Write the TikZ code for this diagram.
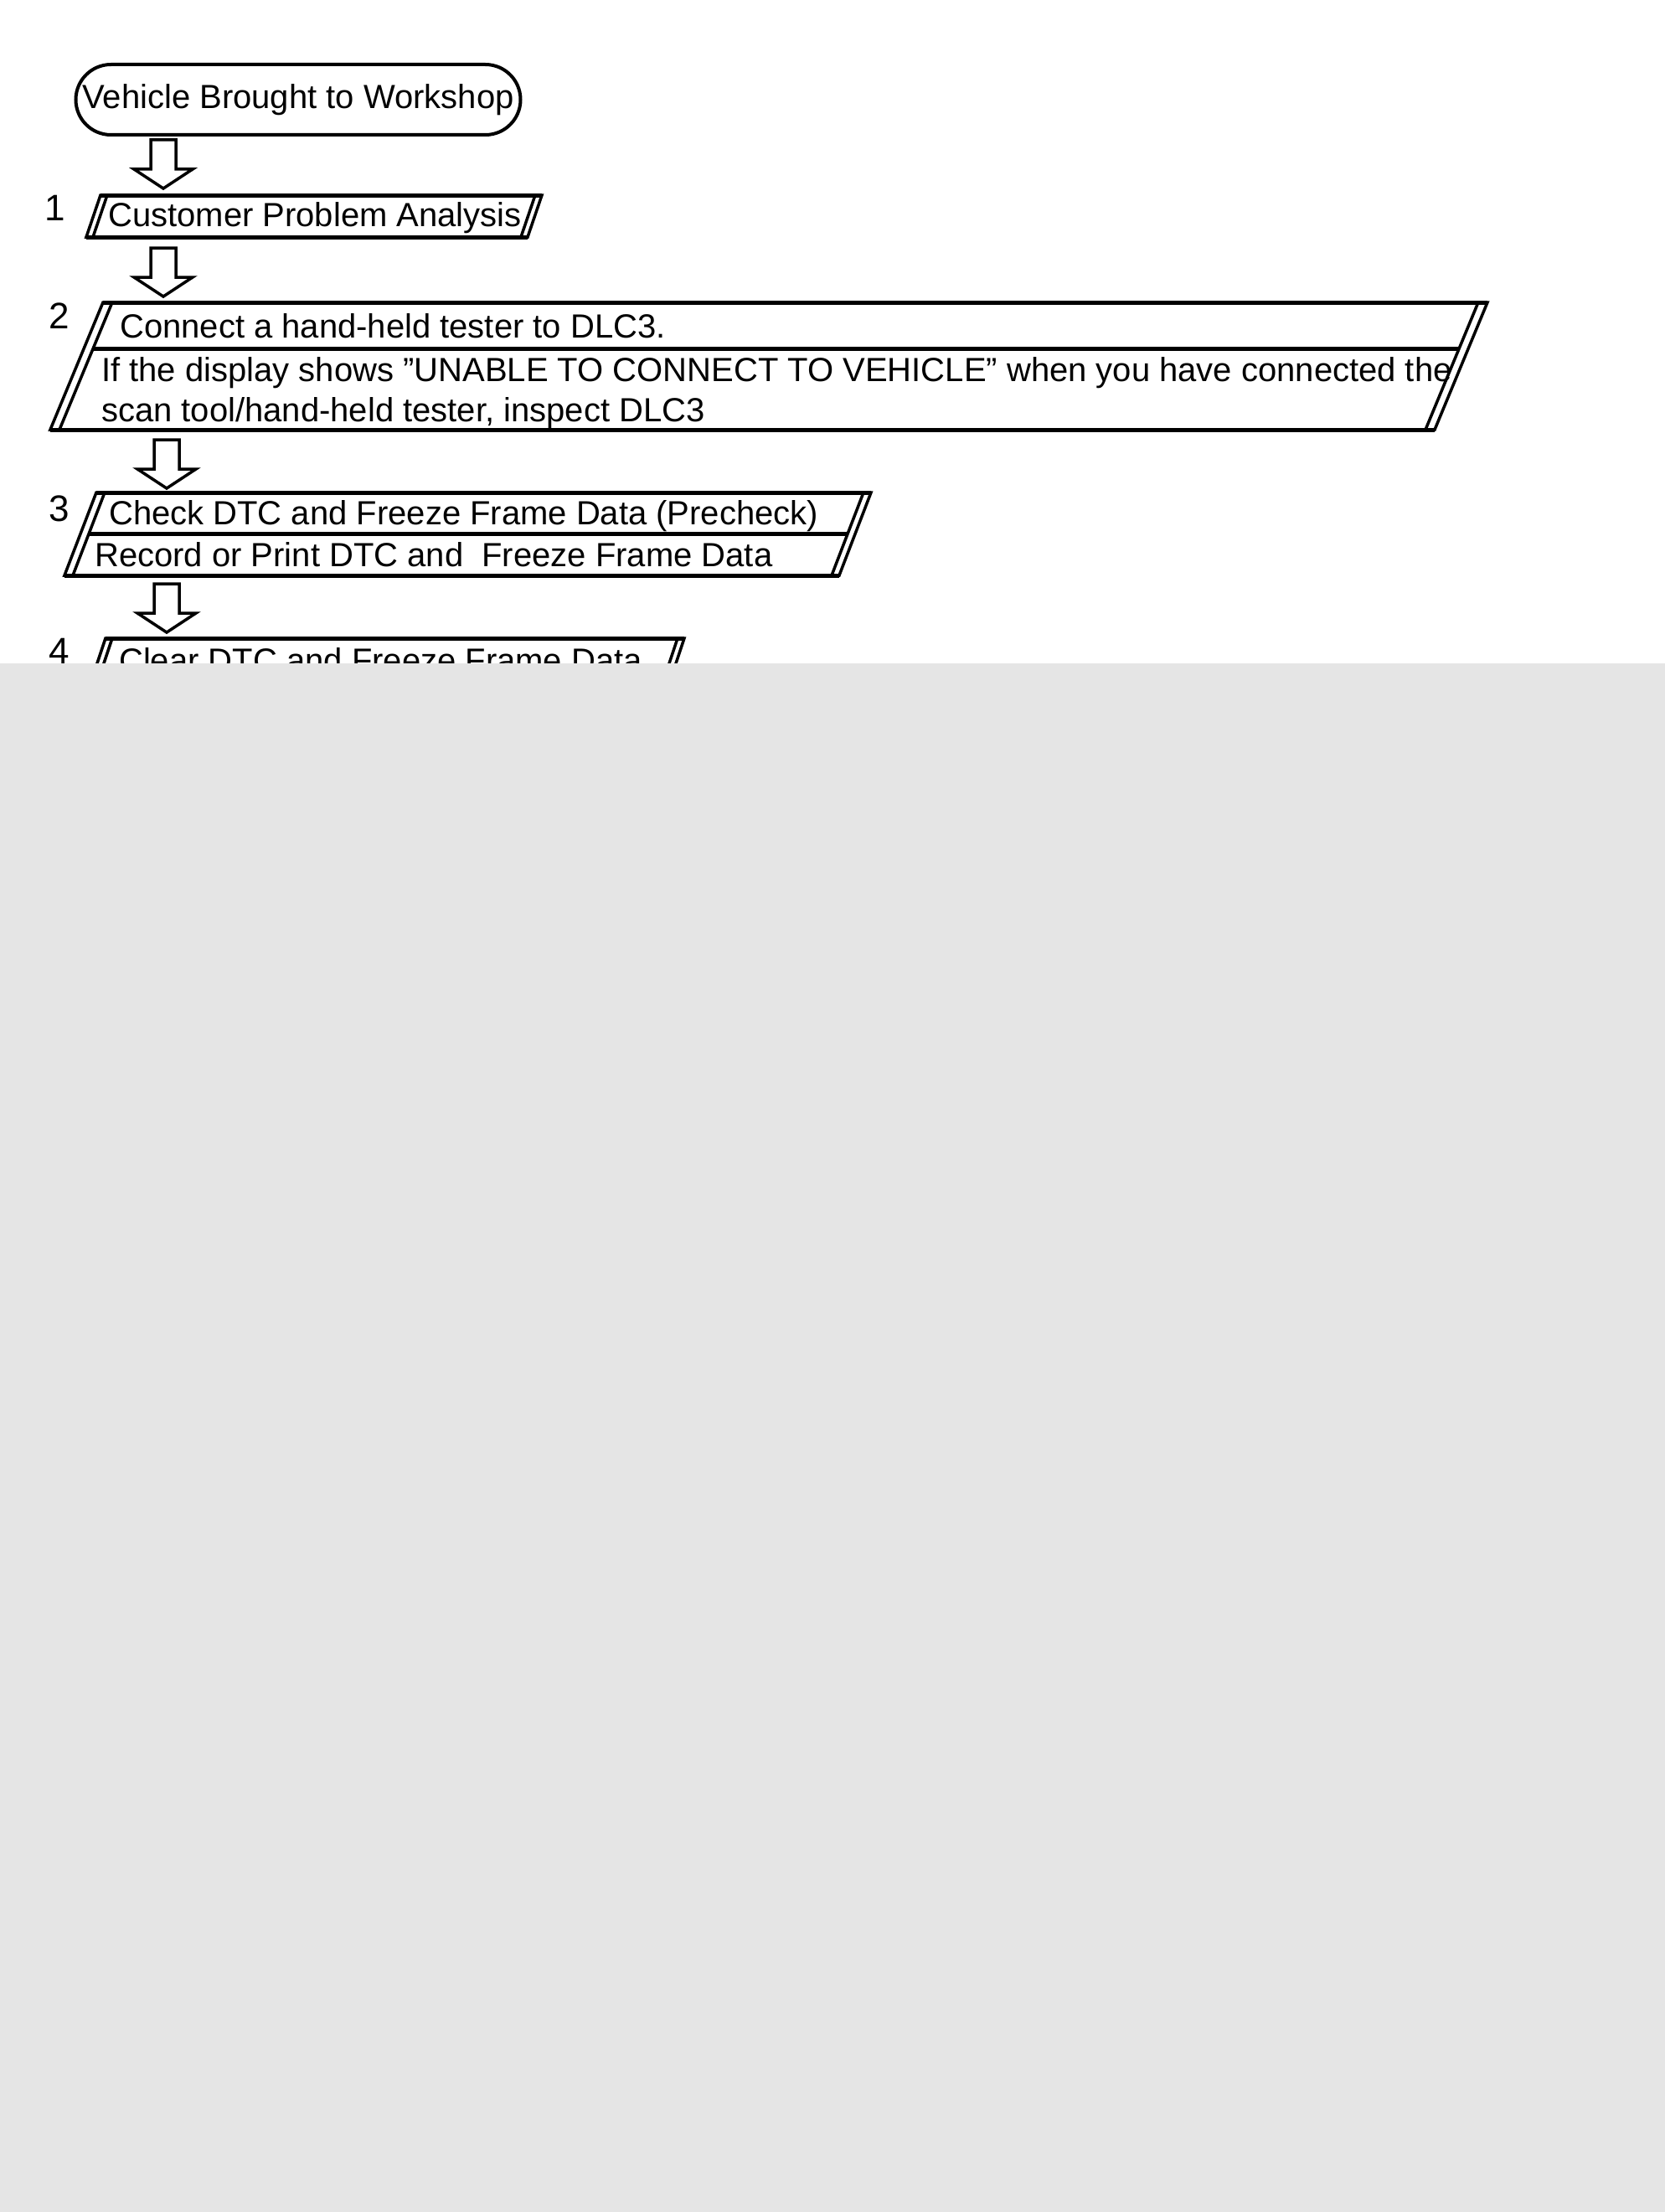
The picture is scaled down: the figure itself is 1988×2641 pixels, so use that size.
\documentclass[tikz,border=0pt]{standalone}
\usepackage{fontspec}
\setmainfont{Liberation Sans}
\begin{document}
\begin{tikzpicture}[x=1pt, y=-1pt,
  every node/.style={font=\fontsize{40}{48}\selectfont, inner sep=0pt},
  terminal/.style={draw, line width=4pt, rounded corners=42pt, minimum width=531pt, minimum height=84pt},
  txt/.style={anchor=base west},
  stepno/.style={font=\fontsize{44}{52}\selectfont},
  side/.style={line width=3.5pt},
  rim/.style={line width=5pt},
  downarrow/.pic={\draw[line width=3.5pt, line join=miter] (-15,0) -- (15,0) -- (15,35) -- (35,35) -- (0,58) -- (-35,35) -- (-15,35) -- cycle;}]

\useasboundingbox (0,0) rectangle (1988,2641);

\node[terminal] (start) at (356,119) {Vehicle Brought to Workshop};

\pic at (195,167) {downarrow};

\node[stepno] (n1) at (66,248) {1};
\draw[side] (120,233) -- (647,233) -- (630,283) -- (103,283) -- cycle;
\draw[side] (128,233) -- (111,283);
\draw[side] (639,233) -- (622,283);
\draw[rim] (120,233) -- (647,233);
\draw[rim] (103,283) -- (630,283);
\node[txt] (t1) at (129,270) {Customer Problem Analysis};

\pic at (195,296) {downarrow};

\node[stepno] (n2) at (71,377) {2};
\draw[side] (123,361) -- (1776,361) -- (1713,513) -- (60,513) -- cycle;
\draw[side] (134,361) -- (71,513);
\draw[side] (1765,361) -- (1702,513);
\draw[rim] (123,361) -- (1776,361);
\draw[rim] (60,513) -- (1713,513);
\draw[rim] (111,416) -- (1742,416);
\node[txt] (t2a) at (143,403) {Connect a hand-held tester to DLC3.};
\node[txt] (t2b) at (121,455) {If the display shows ”UNABLE TO CONNECT TO VEHICLE” when you have connected the};
\node[txt] (t2c) at (121,503) {scan tool/hand-held tester, inspect DLC3};

\pic at (199,525) {downarrow};

\node[stepno] (n3) at (71,607) {3};
\draw[side] (115,588) -- (1040,588) -- (1002,687) -- (77,687) -- cycle;
\draw[side] (125,588) -- (87,687);
\draw[side] (1031,588) -- (993,687);
\draw[rim] (115,588) -- (1040,588);
\draw[rim] (77,687) -- (1002,687);
\draw[rim] (106,637) -- (1012,637);
\node[txt] (t3a) at (130,626) {Check DTC and Freeze Frame Data (Precheck)};
\node[txt] (t3b) at (113,676) {Record or Print DTC and~ Freeze Frame Data};

\pic at (199,697) {downarrow};

\node[stepno] (n4) at (71,777) {4};
\draw[side] (126,762) -- (817,762) -- (800,813) -- (109,813) -- cycle;
\draw[side] (134,762) -- (117,813);
\draw[side] (809,762) -- (792,813);
\draw[rim] (126,762) -- (817,762);
\node[txt] (t4) at (142,802) {Clear DTC and Freeze Frame Data};

\fill[black!10] (0,792) rectangle (1988,2641);

\end{tikzpicture}
\end{document}
